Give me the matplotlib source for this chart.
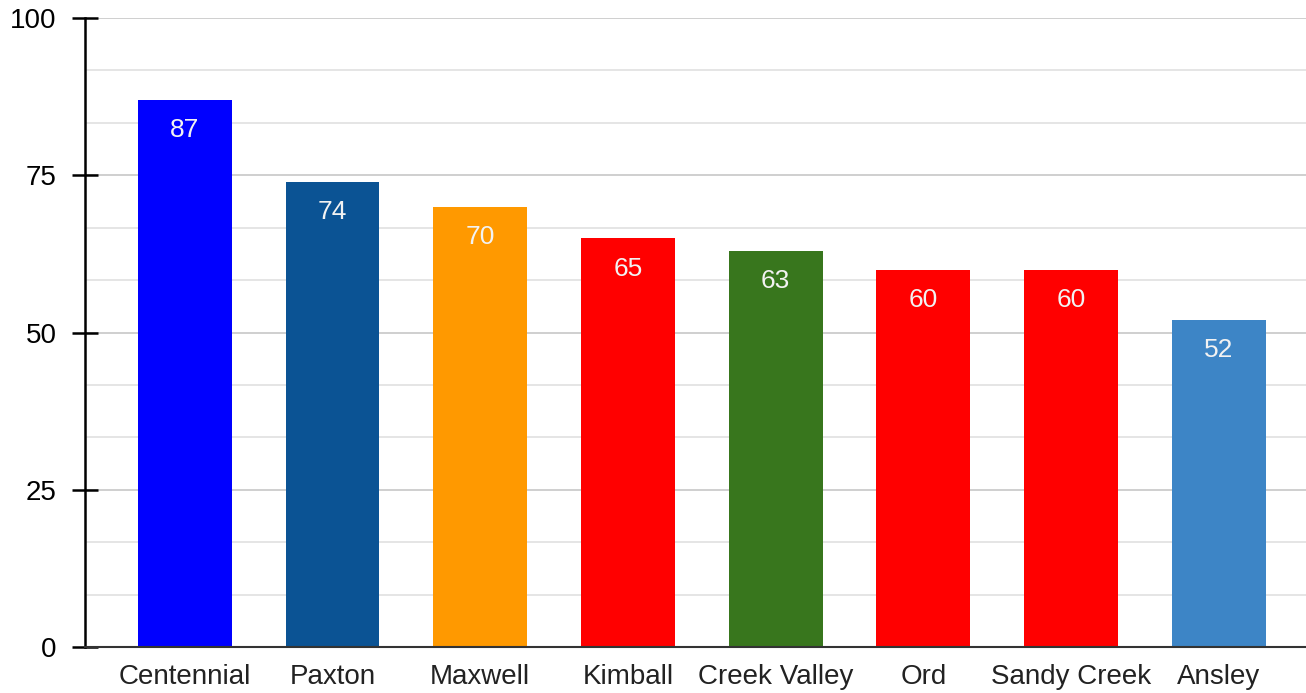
import numpy as np
import matplotlib
matplotlib.use("Agg")
import matplotlib.pyplot as plt

schools = ["Centennial", "Paxton", "Maxwell", "Kimball", "Creek Valley", "Ord", "Sandy Creek", "Ansley"]
scores = [87, 74, 70, 65, 63, 60, 60, 52]
colors = ["#0000ff", "#0b5394", "#ff9900", "#ff0000", "#38761d", "#ff0000", "#ff0000", "#3d85c6"]

plt.rcParams["font.family"] = ["Liberation Sans", "DejaVu Sans"]

fig = plt.figure(figsize=(13.06, 6.93), dpi=100)
ax = fig.add_axes([0.0651, 0.0664, 0.9349, 0.9076])

x = np.arange(len(schools))
bars = ax.bar(x, scores, width=0.635, color=colors, zorder=3)
for xi, v in zip(x, scores):
    ax.annotate(str(v), (xi, v), xytext=(0, -22), textcoords="offset points",
                ha="center", va="center", fontsize=19, color="#f2f2f2", zorder=4)

ax.set_xlim(-0.675, 7.59)
ax.set_ylim(0, 100)
ax.set_yticks([0, 25, 50, 75, 100])
ax.set_yticks(np.arange(0, 100, 100 / 12), minor=True)
ax.grid(axis="y", which="major", color="#cccccc", lw=1.3, zorder=0)
ax.grid(axis="y", which="minor", color="#e3e3e3", lw=1.3, zorder=0)
ax.tick_params(axis="y", which="major", direction="inout", length=19, width=1.8,
               labelsize=20, pad=11, colors="black")
ax.tick_params(axis="y", which="minor", length=0)
ax.set_xticks(x)
ax.set_xticklabels(schools)
ax.tick_params(axis="x", length=0, labelsize=20, pad=12, labelcolor="#222222")

for s in ["top", "right"]:
    ax.spines[s].set_visible(False)
ax.spines["left"].set_linewidth(1.8)
ax.spines["left"].set_color("black")
ax.spines["bottom"].set_linewidth(1.5)
ax.spines["bottom"].set_color("#333333")
ax.spines["left"].set_zorder(5)
ax.spines["bottom"].set_zorder(5)

fig.savefig("out.png", dpi=100)
